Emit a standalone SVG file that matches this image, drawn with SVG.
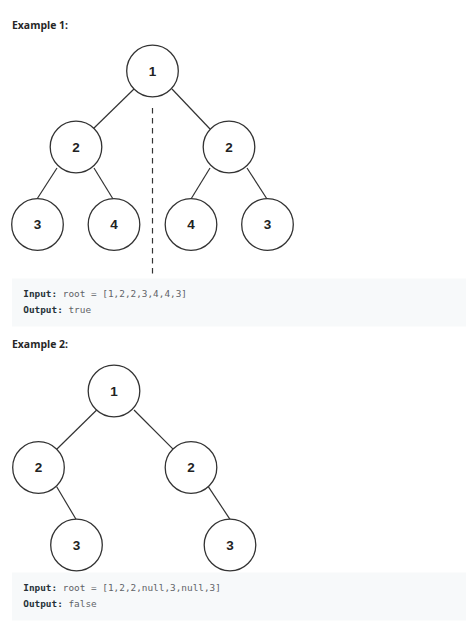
<svg xmlns="http://www.w3.org/2000/svg" width="466" height="636" viewBox="0 0 466 636">
<style>
.title{font-family:"Open Sans","Liberation Sans",sans-serif;font-weight:bold;font-size:11px;fill:#262626}
.node circle{fill:#fff;stroke:#333;stroke-width:1.3}
.node text{font-family:"Liberation Sans",Arial,sans-serif;font-weight:bold;font-size:13.5px;fill:#222;text-anchor:middle}
.edges line{stroke:#333;stroke-width:1.2}
.code{fill:#f7f9fa}
.mono{font-family:"DejaVu Sans Mono","Liberation Mono",monospace;font-size:9.4px;fill:#5f6368}
.mono .k{font-weight:bold;fill:#263238}
</style>
<rect width="466" height="636" fill="#fff"/>
<text class="title" x="12" y="29" textLength="56" lengthAdjust="spacingAndGlyphs">Example 1:</text>
<g id="connectors" class="edges">
<line x1="134" y1="89" x2="93" y2="129"/>
<line x1="172" y1="89" x2="210" y2="129"/>
<line x1="57" y1="168" x2="37" y2="199"/>
<line x1="94" y1="168" x2="113" y2="199"/>
<line x1="210" y1="168" x2="191" y2="199"/>
<line x1="247" y1="168" x2="267" y2="199"/>
<line x1="152.5" y1="108" x2="152.5" y2="278" stroke-dasharray="5.5 4.5" stroke-width="2"/>
<line x1="96.7" y1="410" x2="56.7" y2="449.3"/>
<line x1="134" y1="410" x2="173.3" y2="449.3"/>
<line x1="56.7" y1="486.7" x2="76" y2="519.3"/>
<line x1="208.3" y1="486.7" x2="230" y2="519.3"/>
</g>
<g id="e1-n1" class="node"><circle cx="152.5" cy="71" r="25.8"/><text x="152.5" y="75.8">1</text></g>
<g id="e1-n2l" class="node"><circle cx="76" cy="147" r="25.8"/><text x="76" y="151.8">2</text></g>
<g id="e1-n2r" class="node"><circle cx="229" cy="147" r="25.8"/><text x="229" y="151.8">2</text></g>
<g id="e1-n3l" class="node"><circle cx="37.5" cy="224.5" r="25.8"/><text x="37.5" y="229.3">3</text></g>
<g id="e1-n4l" class="node"><circle cx="114" cy="224.5" r="25.8"/><text x="114" y="229.3">4</text></g>
<g id="e1-n4r" class="node"><circle cx="191" cy="224.5" r="25.8"/><text x="191" y="229.3">4</text></g>
<g id="e1-n3r" class="node"><circle cx="267.5" cy="224.5" r="25.8"/><text x="267.5" y="229.3">3</text></g>
<rect class="code" x="12" y="278.5" width="454" height="48"/>
<text class="mono" x="23.3" y="297"><tspan class="k">Input:</tspan> root = [1,2,2,3,4,4,3]</text>
<text class="mono" x="23.3" y="313"><tspan class="k">Output:</tspan> true</text>
<text class="title" x="12" y="348" textLength="56" lengthAdjust="spacingAndGlyphs">Example 2:</text>
<g id="e2-n1" class="node"><circle cx="114" cy="391" r="25.8"/><text x="114" y="395.8">1</text></g>
<g id="e2-n2l" class="node"><circle cx="38.5" cy="467.5" r="25.8"/><text x="38.5" y="472.3">2</text></g>
<g id="e2-n2r" class="node"><circle cx="191" cy="467.5" r="25.8"/><text x="191" y="472.3">2</text></g>
<g id="e2-n3l" class="node"><circle cx="76.5" cy="545" r="25.8"/><text x="76.5" y="549.8">3</text></g>
<g id="e2-n3r" class="node"><circle cx="230" cy="545" r="25.8"/><text x="230" y="549.8">3</text></g>
<rect class="code" x="12" y="572.5" width="454" height="48"/>
<text class="mono" x="23.3" y="591"><tspan class="k">Input:</tspan> root = [1,2,2,null,3,null,3]</text>
<text class="mono" x="23.3" y="607"><tspan class="k">Output:</tspan> false</text>
</svg>
